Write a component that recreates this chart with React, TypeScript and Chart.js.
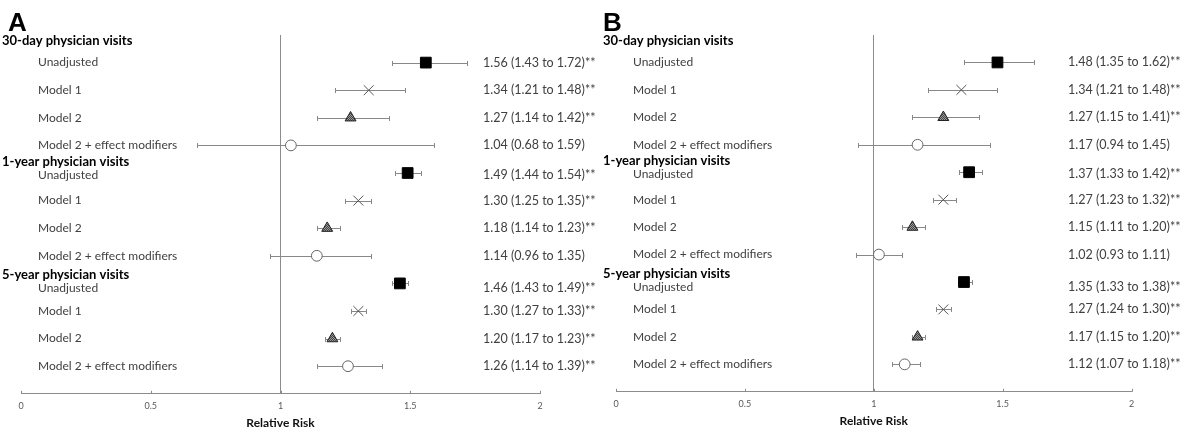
import React, { useEffect, useRef } from 'react';
import { Chart, registerables } from 'chart.js';

Chart.register(...registerables);

// ---- data ----
const groupTitles = ['30-day physician visits', '1-year physician visits', '5-year physician visits'];
const modelLabels = ['Unadjusted', 'Model 1', 'Model 2', 'Model 2 + effect modifiers'];

const rrA = [1.56, 1.34, 1.27, 1.04, 1.49, 1.30, 1.18, 1.14, 1.46, 1.30, 1.20, 1.26];
const loA = [1.43, 1.21, 1.14, 0.68, 1.44, 1.25, 1.14, 0.96, 1.43, 1.27, 1.17, 1.14];
const hiA = [1.72, 1.48, 1.42, 1.59, 1.54, 1.35, 1.23, 1.35, 1.49, 1.33, 1.23, 1.39];

const rrB = [1.48, 1.34, 1.27, 1.17, 1.37, 1.27, 1.15, 1.02, 1.35, 1.27, 1.17, 1.12];
const loB = [1.35, 1.21, 1.15, 0.94, 1.33, 1.23, 1.11, 0.93, 1.33, 1.24, 1.15, 1.07];
const hiB = [1.62, 1.48, 1.41, 1.45, 1.42, 1.32, 1.20, 1.11, 1.38, 1.30, 1.20, 1.18];

const xTicks = [0, 0.5, 1, 1.5, 2];
const axisTitle = 'Relative Risk';

// ---- layout (row units on the y scale) ----
const headerRows = [0.2, 4.6, 8.7];
const rowCount = 12;

const FONT = 'Lato, "Open Sans", sans-serif';

function fmt(v: number) {
  return v.toFixed(2);
}

type PanelProps = {
  letter: string;
  rr: number[];
  lo: number[];
  hi: number[];
  canvasWidth: number;
  padRight: number;
  padBottom: number;
  headerX: number;
  valueFromRight: number;
};

function Panel(p: PanelProps) {
  const ref = useRef<HTMLCanvasElement | null>(null);
  useEffect(() => {
    const canvas = ref.current!;
    const ctx0 = canvas.getContext('2d')!;
    const pc = document.createElement('canvas');
    pc.width = 2;
    pc.height = 2;
    const pg = pc.getContext('2d')!;
    pg.fillStyle = '#444';
    pg.fillRect(0, 0, 2, 2);
    pg.fillStyle = '#999';
    pg.fillRect(0, 0, 1, 1);
    pg.fillRect(1, 1, 1, 1);
    const pattern = ctx0.createPattern(pc, 'repeat');

    const styles = [
      { pointStyle: 'rect', radius: 7.6, bg: '#000', border: '#000', bw: 1 },
      { pointStyle: 'crossRot', radius: 7, bg: '#555', border: '#555', bw: 1 },
      { pointStyle: 'triangle', radius: 6.3, bg: pattern, border: '#222', bw: 1 },
      { pointStyle: 'circle', radius: 5.4, bg: '#fff', border: '#666', bw: 1 },
    ];

    const datasets = styles.map((s, m) => ({
      label: modelLabels[m],
      data: groupTitles.map((_, g) => ({ x: p.rr[g * 4 + m], y: g * 4 + m + 1 })),
      pointStyle: s.pointStyle,
      pointRadius: s.radius,
      pointBackgroundColor: s.bg,
      pointBorderColor: s.border,
      pointBorderWidth: s.bw,
      showLine: false,
    }));

    const forest = {
      id: 'forest',
      beforeDatasetsDraw(chart: any) {
        const { ctx } = chart;
        const xs = chart.scales.x;
        const ys = chart.scales.y;
        ctx.save();
        ctx.strokeStyle = '#888';
        ctx.lineWidth = 1;
        for (let i = 0; i < rowCount; i++) {
          const y = Math.round(ys.getPixelForValue(i + 1)) + 0.5;
          const x1 = Math.round(xs.getPixelForValue(p.lo[i])) + 0.5;
          const x2 = Math.round(xs.getPixelForValue(p.hi[i])) + 0.5;
          ctx.beginPath();
          ctx.moveTo(x1, y);
          ctx.lineTo(x2, y);
          ctx.moveTo(x1, y - 2.5);
          ctx.lineTo(x1, y + 2.5);
          ctx.moveTo(x2, y - 2.5);
          ctx.lineTo(x2, y + 2.5);
          ctx.stroke();
        }
        ctx.restore();
      },
      afterDraw(chart: any) {
        const { ctx, chartArea } = chart;
        const xs = chart.scales.x;
        const ys = chart.scales.y;
        ctx.save();
        // inside tick marks on x axis
        ctx.strokeStyle = '#8c8c8c';
        ctx.lineWidth = 1;
        xTicks.forEach((v) => {
          const x = Math.round(xs.getPixelForValue(v)) + 0.5;
          ctx.beginPath();
          ctx.moveTo(x, chartArea.bottom);
          ctx.lineTo(x, chartArea.bottom - 3);
          ctx.stroke();
        });
        // panel letter
        ctx.fillStyle = '#000';
        ctx.textBaseline = 'alphabetic';
        ctx.font = 'bold 26px "Liberation Sans", Arial, sans-serif';
        ctx.fillText(p.letter, 8, 31);
        // group headers
        ctx.textBaseline = 'middle';
        ctx.font = `bold 13px ${FONT}`;
        const headerY = headerRows.map((r) => ys.getPixelForValue(r));
        groupTitles.forEach((t, g) => {
          ctx.fillText(t, p.headerX, headerY[g]);
        });
        // row labels and values (kept at least 13px under their group header)
        ctx.fillStyle = '#404040';
        for (let i = 0; i < rowCount; i++) {
          const g = Math.floor(i / 4);
          const y = Math.max(ys.getPixelForValue(i + 1), headerY[g] + 13);
          ctx.font = `12px ${FONT}`;
          ctx.fillText(modelLabels[i % 4], chartArea.left + 17, y);
          const sig = p.lo[i] > 1 ? '**' : '';
          ctx.font = `12.5px ${FONT}`;
          ctx.fillText(
            `${fmt(p.rr[i])} (${fmt(p.lo[i])} to ${fmt(p.hi[i])})${sig}`,
            chartArea.right - p.valueFromRight,
            y
          );
        }
        ctx.restore();
      },
    };

    const chart = new Chart(canvas, {
      type: 'scatter',
      data: { datasets: datasets as any },
      options: {
        animation: false,
        responsive: false,
        devicePixelRatio: 1,
        layout: { padding: { left: 21, right: p.padRight, top: 35, bottom: p.padBottom } },
        plugins: { legend: { display: false }, tooltip: { enabled: false } },
        scales: {
          x: {
            type: 'linear',
            min: 0,
            max: 2,
            afterBuildTicks: (s: any) => {
              s.ticks = xTicks.map((v) => ({ value: v }));
            },
            grid: { display: false, drawTicks: false },
            border: { display: true, color: '#8c8c8c', width: 1 },
            ticks: {
              padding: 7,
              color: '#595959',
              font: { family: FONT, size: 9 },
              maxRotation: 0,
              callback: (v: any) => String(v),
            },
            title: {
              display: true,
              text: axisTitle,
              color: '#111',
              font: { family: FONT, size: 12, weight: 'bold' },
              padding: { top: -3, bottom: 0 },
            },
          },
          y: {
            type: 'linear',
            min: 0,
            max: rowCount + 1,
            reverse: true,
            position: { x: 1 } as any,
            ticks: { display: false },
            grid: { display: false, drawTicks: false },
            border: { display: true, color: '#8c8c8c', width: 1 },
          },
        },
      },
      plugins: [forest],
    });
    return () => chart.destroy();
  }, []);
  return (
    <canvas
      ref={ref}
      width={p.canvasWidth}
      height={432}
      style={{ width: p.canvasWidth, height: 432, display: 'block' }}
    />
  );
}

export default function App() {
  return (
    <div style={{ position: 'fixed', left: 0, top: 0, width: 1189, height: 432, background: '#fff', overflow: 'hidden' }}>
      <div style={{ position: 'absolute', left: 0, top: 0 }}>
        <Panel letter="A" rr={rrA} lo={loA} hi={hiA} canvasWidth={600} padRight={60} padBottom={2} headerX={2} valueFromRight={57} />
      </div>
      <div style={{ position: 'absolute', left: 595, top: 0 }}>
        <Panel letter="B" rr={rrB} lo={loB} hi={hiB} canvasWidth={594} padRight={57.5} padBottom={4} headerX={8} valueFromRight={63.5} />
      </div>
    </div>
  );
}
